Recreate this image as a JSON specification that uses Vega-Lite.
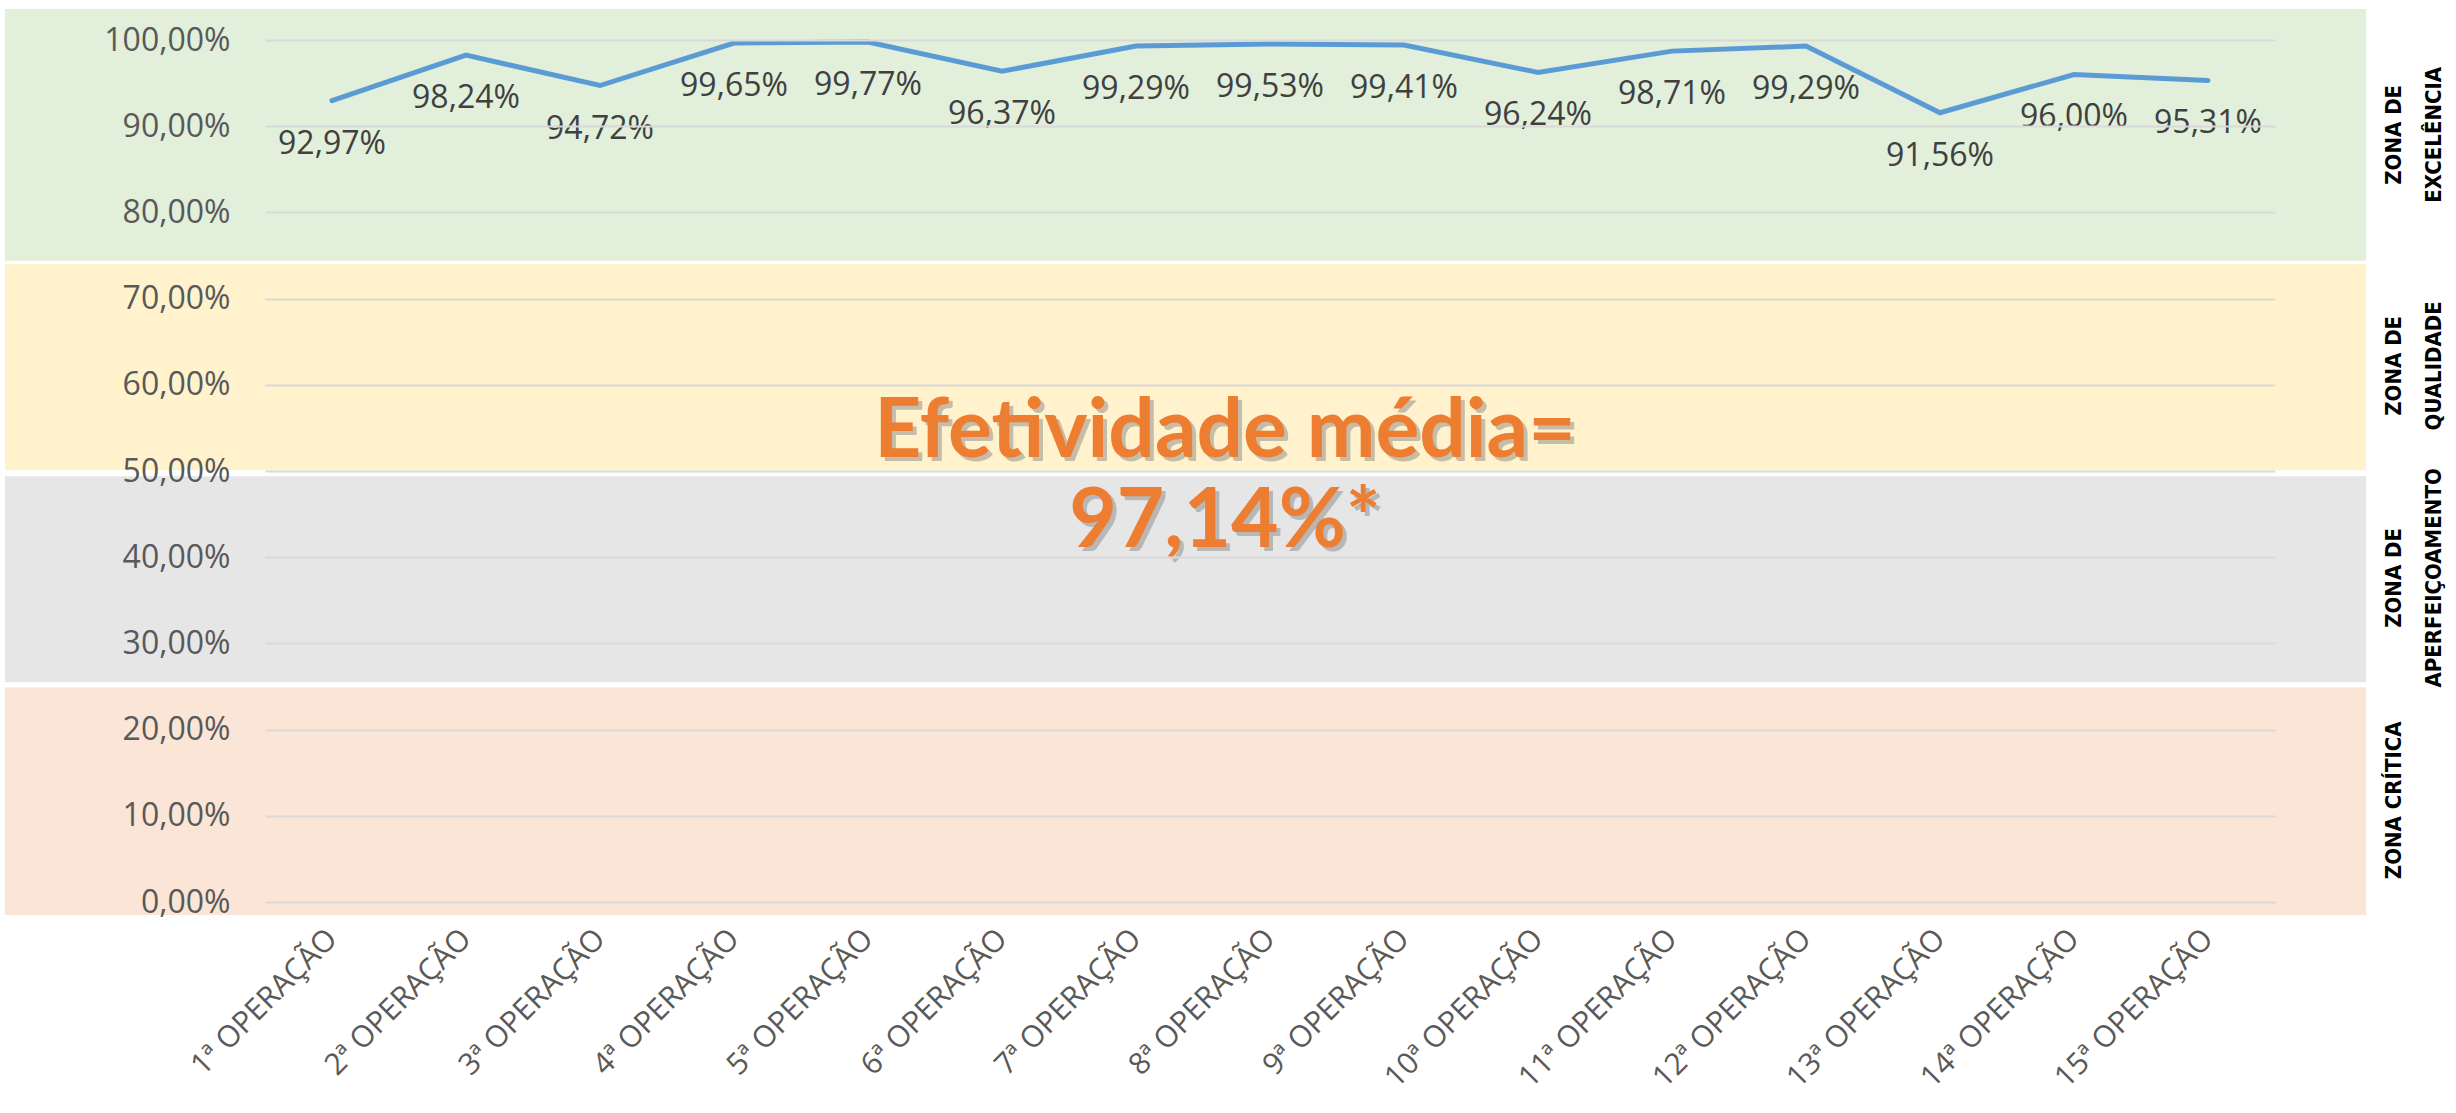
{
  "$schema": "https://vega.github.io/schema/vega-lite/v6.json",
  "width": 2010,
  "height": 862,
  "autosize": {"type": "none"},
  "padding": {"left": 265, "top": 40, "right": 181, "bottom": 211},
  "background": "white",
  "config": {
    "view": {"stroke": null},
    "locale": {"number": {"decimal": ",", "thousands": ".", "grouping": [3], "currency": ["R$ ", ""]}}
  },
  "datasets": {
    "efetividade": [
      {"operacao": "1ª OPERAÇÃO", "valor": 0.9297},
      {"operacao": "2ª OPERAÇÃO", "valor": 0.9824},
      {"operacao": "3ª OPERAÇÃO", "valor": 0.9472},
      {"operacao": "4ª OPERAÇÃO", "valor": 0.9965},
      {"operacao": "5ª OPERAÇÃO", "valor": 0.9977},
      {"operacao": "6ª OPERAÇÃO", "valor": 0.9637},
      {"operacao": "7ª OPERAÇÃO", "valor": 0.9929},
      {"operacao": "8ª OPERAÇÃO", "valor": 0.9953},
      {"operacao": "9ª OPERAÇÃO", "valor": 0.9941},
      {"operacao": "10ª OPERAÇÃO", "valor": 0.9624},
      {"operacao": "11ª OPERAÇÃO", "valor": 0.9871},
      {"operacao": "12ª OPERAÇÃO", "valor": 0.9929},
      {"operacao": "13ª OPERAÇÃO", "valor": 0.9156},
      {"operacao": "14ª OPERAÇÃO", "valor": 0.96},
      {"operacao": "15ª OPERAÇÃO", "valor": 0.9531}
    ],
    "zonas": [
      {"zona": "Excelência", "rotulo": ["ZONA DE", "EXCELÊNCIA"], "de": 0.744, "ate": 1.036, "meio": 0.89},
      {"zona": "Qualidade", "rotulo": ["ZONA DE", "QUALIDADE"], "de": 0.501, "ate": 0.740, "meio": 0.622},
      {"zona": "Aperfeiçoamento", "rotulo": ["ZONA DE", "APERFEIÇOAMENTO"], "de": 0.255, "ate": 0.494, "meio": 0.376},
      {"zona": "Crítica", "rotulo": ["ZONA CRÍTICA"], "de": -0.015, "ate": 0.249, "meio": 0.118}
    ]
  },
  "layer": [
    {
      "layer": [
        {
          "data": {"name": "zonas"},
          "mark": {"type": "rect"},
          "encoding": {
            "x": {"datum": -0.1294, "type": "quantitative", "scale": {"domain": [0, 1], "nice": false, "zero": false}, "axis": null},
            "x2": {"datum": 1.0453},
            "y": {"field": "de", "type": "quantitative", "scale": {"domain": [0, 1], "nice": false, "zero": false},
                  "axis": {"title": null, "format": ".2%", "values": [0, 0.1, 0.2, 0.3, 0.4, 0.5, 0.6, 0.7, 0.8, 0.9, 1],
                           "grid": true, "gridColor": "#D9D9D9", "gridWidth": 2, "domain": false, "ticks": false,
                           "labelFont": "Open Sans", "labelFontSize": 32, "labelColor": "#595959", "labelPadding": 35, "zindex": 1}},
            "y2": {"field": "ate"},
            "color": {"field": "zona", "type": "nominal",
                      "scale": {"domain": ["Excelência", "Qualidade", "Aperfeiçoamento", "Crítica"],
                                "range": ["#E2EFDA", "#FFF2CC", "#E6E6E6", "#FBE5D6"]},
                      "legend": null}
          }
        },
        {
          "data": {"name": "zonas"},
          "mark": {"type": "text", "angle": 270, "align": "center", "baseline": "top", "font": "'DejaVu Sans Condensed', 'Roboto', sans-serif", "fontWeight": "bold", "fontSize": 22, "lineHeight": 40, "color": "#000000"},
          "encoding": {
            "x": {"datum": 1.0542, "type": "quantitative"},
            "y": {"field": "meio", "type": "quantitative"},
            "text": {"field": "rotulo"}
          }
        },
        {
          "data": {"values": [{}]},
          "mark": {"type": "text", "align": "center", "baseline": "alphabetic", "font": "Lato", "fontWeight": "bold", "fontSize": 82, "lineHeight": 90, "color": "#7F7F7F", "opacity": 0.45, "dx": 4, "dy": 4,
                   "text": ["Efetividade média=", "97,14%*"]},
          "encoding": {
            "x": {"datum": 0.4776, "type": "quantitative"},
            "y": {"datum": 0.516, "type": "quantitative"}
          }
        },
        {
          "data": {"values": [{}]},
          "mark": {"type": "text", "align": "center", "baseline": "alphabetic", "font": "Lato", "fontWeight": "bold", "fontSize": 82, "lineHeight": 90, "color": "#ED7D31",
                   "text": ["Efetividade média=", "97,14%*"]},
          "encoding": {
            "x": {"datum": 0.4776, "type": "quantitative"},
            "y": {"datum": 0.516, "type": "quantitative"}
          }
        }
      ]
    },
    {
      "data": {"name": "efetividade"},
      "encoding": {
        "x": {"field": "operacao", "type": "ordinal", "sort": null,
              "axis": {"orient": "bottom", "title": null, "labelAngle": -45, "labelAlign": "right", "labelBaseline": "middle", "domain": false, "ticks": false, "grid": false,
                       "labelFont": "Open Sans", "labelFontSize": 30, "labelColor": "#595959", "labelPadding": 32, "labelLimit": 0, "labelOverlap": false}},
        "y": {"field": "valor", "type": "quantitative", "scale": {"domain": [0, 1], "nice": false, "zero": false}}
      },
      "layer": [
        {"mark": {"type": "line", "color": "#5B9BD5", "strokeWidth": 5, "strokeCap": "round", "strokeJoin": "miter"}},
        {"mark": {"type": "text", "baseline": "middle", "align": "center", "dy": 43, "font": "Open Sans", "fontSize": 32, "color": "#404040"},
         "encoding": {"text": {"field": "valor", "type": "quantitative", "format": ".2%"}}}
      ]
    }
  ],
  "resolve": {"scale": {"x": "independent"}, "axis": {"x": "independent"}}
}
